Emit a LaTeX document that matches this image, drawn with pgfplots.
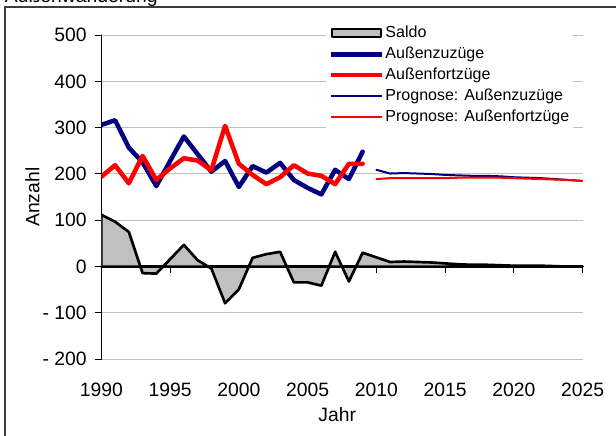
\documentclass[border=0pt]{standalone}
\usepackage{fontspec}
\setmainfont{Liberation Sans}
\usepackage{pgfplots}
\usepackage{pgfplotstable}
\pgfplotsset{compat=1.18}

\definecolor{navy}{RGB}{0,0,128}
\definecolor{silver}{RGB}{192,192,192}
\definecolor{rahmen}{RGB}{60,60,60}

% Ist-Werte 1990-2009
\pgfplotstableread{
jahr zuzug fortzug
1990 306 194
1991 316 219
1992 257 180
1993 225 239
1994 174 187
1995 228 212
1996 281 234
1997 243 229
1998 205 208
1999 228 304
2000 172 222
2001 217 198
2002 203 178
2003 224 193
2004 187 219
2005 170 201
2006 156 196
2007 209 178
2008 189 222
2009 248 222
}\istdata

% Prognose 2010-2025
\pgfplotstableread{
jahr zuzug fortzug
2010 209 189
2011 201 191
2012 202 191
2013 201 191
2014 200 191
2015 198 191
2016 197 192
2017 196 192
2018 196 192
2019 195 192
2020 193 191
2021 192 190
2022 191 189
2023 189 188
2024 187 187
2025 185 185
}\progdata

\pgfplotstableread{
jahr saldo
1990 112
1991 97
1992 75
1993 -14
1994 -15
1995 16
1996 47
1997 14
1998 -4
1999 -79
2000 -49
2001 19
2002 27
2003 32
2004 -34
2005 -34
2006 -41
2007 32
2008 -32
2009 30
2010 20
2011 10
2012 11
2013 10
2014 9
2015 7
2016 5
2017 4
2018 4
2019 3
2020 2
2021 2
2022 2
2023 1
2024 0
2025 0
}\saldodata

\begin{document}
\begin{tikzpicture}
\useasboundingbox (0,0) rectangle (462pt,326.25pt);
\draw[rahmen, line width=1.5pt] (3.4pt,-10pt) rectangle (475pt,321pt);
\node[anchor=base west, inner sep=0pt, font=\fontsize{14.5}{17}\selectfont] at (3.5pt,324.2pt) {Außenwanderung};
\begin{axis}[
    at={(75.98pt,56.78pt)}, anchor=south west,
    scale only axis,
    width=361.05pt, height=243.2pt,
    xmin=1990, xmax=2025,
    ymin=-200, ymax=500,
    axis x line*=middle,
    axis y line*=left,
    hide obscured x ticks=false,
    x axis line style={-, line width=1.8pt},
    y axis line style={-, line width=0.9pt},
    tick align=outside,
    major tick length=4.5pt,
    tick style={black, line width=0.75pt},
    xtick={1990,1995,...,2025},
    xticklabels={1990,1995,2000,2005,2010,2015,2020,2025},
    ytick={-200,-100,...,500},
    yticklabels={- 200,- 100,0,100,200,300,400,500},
    ymajorgrids,
    grid style={silver, line width=0.75pt},
    tick label style={font=\fontsize{14.5}{17}\selectfont},
    xticklabel style={anchor=base, yshift=-92.8pt},
    yticklabel style={xshift=-3pt},
    label style={font=\fontsize{14.5}{17}\selectfont},
    xlabel={Jahr},
    xlabel style={at={(axis description cs:0.49,-0.192)}, anchor=base},
    ylabel={Anzahl},
    ylabel style={at={(axis description cs:-0.143,0.5)}, anchor=center},
    legend cell align=left,
    legend style={
        at={(axis description cs:0.4668,1.042)}, anchor=north west,
        draw=none, fill=white, inner sep=2pt, row sep=2.2pt,
        font=\fontsize{12}{14}\selectfont,
        nodes={inner sep=1pt, text height=9pt, text depth=2.5pt}
    },
    legend image code/.code={\draw[#1] (0pt,0pt) -- (38pt,0pt);},
    line join=round, line cap=round
]

\addplot[fill=silver, draw=black, line width=2pt,
    legend image code/.code={\draw[fill=silver, draw=black, line width=1.5pt] (0.75pt,-3pt) rectangle (37.5pt,3pt);}]
    table[x=jahr, y=saldo] {\saldodata} \closedcycle;
\addlegendentry{Saldo}

\addplot[navy, line width=3.4pt] table[x=jahr, y=zuzug] {\istdata};
\addlegendentry{Außenzuzüge}

\addplot[red, line width=3.4pt] table[x=jahr, y=fortzug] {\istdata};
\addlegendentry{Außenfortzüge}

\addplot[navy, line width=1.5pt] table[x=jahr, y=zuzug] {\progdata};
\addlegendentry{Prognose: Außenzuzüge}

\addplot[red, line width=1.5pt] table[x=jahr, y=fortzug] {\progdata};
\addlegendentry{Prognose: Außenfortzüge}

\end{axis}
\end{tikzpicture}
\end{document}
